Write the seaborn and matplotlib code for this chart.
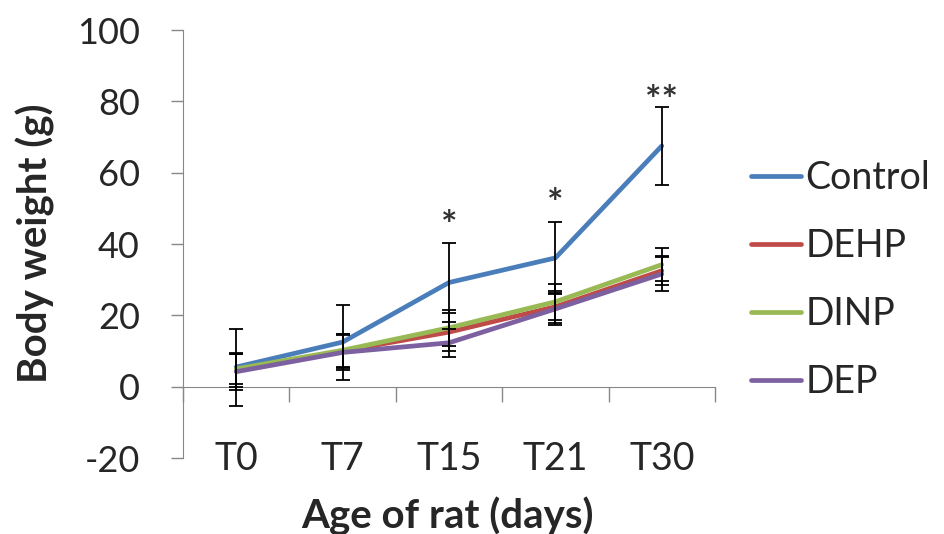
import matplotlib
matplotlib.use("Agg")
import matplotlib.pyplot as plt
import seaborn as sns
import pandas as pd
import numpy as np

categories = ["T0", "T7", "T15", "T21", "T30"]
series_names = ["Control", "DEHP", "DINP", "DEP"]
control = [5.5, 12.5, 29.2, 36.1, 67.5]
dehp = [4.5, 10.0, 15.3, 22.4, 32.5]
dinp = [5.0, 10.2, 16.5, 23.8, 34.2]
dep = [4.2, 9.6, 12.3, 21.8, 31.6]
control_err = [10.8, 10.5, 11.0, 10.0, 11.0]
dehp_err = [4.6, 4.8, 5.4, 4.5, 4.0]
dinp_err = [4.3, 4.6, 5.0, 5.0, 4.7]
dep_err = [5.0, 5.0, 4.0, 4.6, 4.8]
sig_labels = ["", "", "*", "*", "**"]
sig_y = [None, None, 45, 51, 80]
colors = ["#4A7EBB", "#BE4B48", "#98B954", "#7D60A0"]

values = [control, dehp, dinp, dep]
errors = [control_err, dehp_err, dinp_err, dep_err]

rows = []
for name, vals, errs in zip(series_names, values, errors):
    for i, (c, v, e) in enumerate(zip(categories, vals, errs)):
        rows.append({"Age": c, "pos": i, "Group": name, "Weight": v, "err": e})
df = pd.DataFrame(rows)

sns.set_style("white")
plt.rcParams["font.family"] = ["Lato", "DejaVu Sans"]
plt.rcParams["axes.unicode_minus"] = False

fig = plt.figure(figsize=(9.45, 5.34), dpi=100)
ax = fig.add_axes([183 / 945, 1 - 458 / 534, (715 - 183) / 945, (458 - 30) / 534])

sns.lineplot(data=df, x="pos", y="Weight", hue="Group", hue_order=series_names,
             palette=colors, linewidth=3.4, ax=ax, legend=True, sort=False)

for name in series_names:
    sub = df[df["Group"] == name]
    ax.errorbar(sub["pos"], sub["Weight"], yerr=sub["err"], fmt="none",
                ecolor="black", elinewidth=1.3, capsize=5, capthick=1.3, zorder=5)

for i, (lab, yv) in enumerate(zip(sig_labels, sig_y)):
    if lab:
        ax.text(i, yv, lab, ha="center", va="center", fontsize=28,
                color="#333333", fontweight="bold")

ax.set_xlim(-0.5, 4.5)
ax.set_ylim(-20, 100)
ax.set_yticks([-20, 0, 20, 40, 60, 80, 100])
ax.tick_params(axis="y", labelsize=26, direction="out", length=9, width=1,
               color="#888888", pad=22, left=True)
ax.set_xticks([-0.5, 0.5, 1.5, 2.5, 3.5, 4.5])
ax.set_xticklabels([""] * 6)
ax.tick_params(axis="x", direction="out", length=11, width=1, color="#888888",
               bottom=True)

ax.spines["bottom"].set_position(("data", 0))
ax.spines["bottom"].set_color("#888888")
ax.spines["left"].set_color("#888888")
ax.spines["top"].set_visible(False)
ax.spines["right"].set_visible(False)

trans = ax.get_xaxis_transform()
for i, c in enumerate(categories):
    ax.text(i, -0.003, c, transform=trans, ha="center", va="center", fontsize=27)

ax.set_xlabel("Age of rat (days)", fontsize=29, fontweight="bold", va="center")
ax.xaxis.set_label_coords(0.498, -(516 - 458) / 428)
ax.set_ylabel("Body weight (g)", fontsize=29, fontweight="bold", va="center")
ax.yaxis.set_label_coords(-(183 - 35) / 532, (458 - 243) / 428)

handles, labels = ax.get_legend_handles_labels()
ax.legend_.remove()
fig.legend(handles, labels, loc="center left", bbox_to_anchor=(751 / 945, 1 - 280 / 534),
           frameon=False, fontsize=27, handlelength=1.33, handletextpad=0.12,
           labelspacing=0.85, borderaxespad=0, borderpad=0)

fig.savefig("out.png", dpi=100)
